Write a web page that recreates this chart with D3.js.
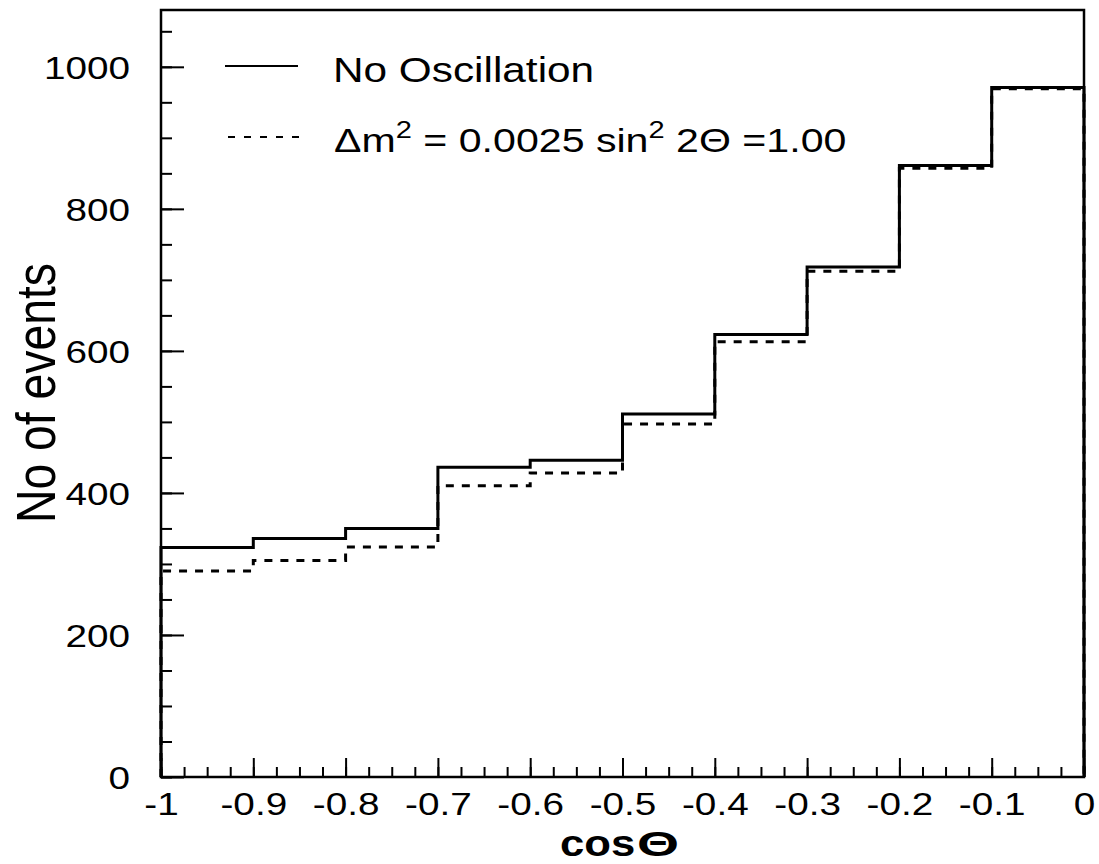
<!DOCTYPE html>
<html>
<head>
<meta charset="utf-8">
<script src="https://cdn.jsdelivr.net/npm/d3@7"></script>
<style>
body { margin: 0; background: #fff; }
text { font-family: "Liberation Sans", Arial, Helvetica, sans-serif; fill: #000; }
</style>
</head>
<body>
<div class="histo"></div>
<script>
var width = 1099;
var height = 864;
var margin = {top: 10, left: 161, right: 15, bottom: 87};
var stretch = 1.21; // ROOT text comes out a bit wider than Arial

// bin edges of cos(theta) and event counts
var binEdges = [-1, -0.9, -0.8, -0.7, -0.6, -0.5, -0.4, -0.3, -0.2, -0.1, 0];
var noOscillation = [323, 336, 350, 436, 446, 511, 623, 718, 861, 971];
var withOscillation = [290, 305, 324, 410, 428, 497, 613, 712, 857, 969];

var xTickValues = [-1, -0.9, -0.8, -0.7, -0.6, -0.5, -0.4, -0.3, -0.2, -0.1, 0];
var xTickLabels = ["-1", "-0.9", "-0.8", "-0.7", "-0.6", "-0.5", "-0.4", "-0.3", "-0.2", "-0.1", "0"];
var yTickValues = [0, 200, 400, 600, 800, 1000];
var yTickLabels = ["0", "200", "400", "600", "800", "1000"];

var svg = d3.select(".histo")
    .append("svg")
    .attr("width", width)
    .attr("height", height);

var xScale = d3.scaleLinear()
    .domain([-1, 0])
    .range([margin.left, width - margin.right]);

var yScale = d3.scaleLinear()
    .domain([0, 1080])
    .range([height - margin.bottom, margin.top]);

// step path for a histogram, ROOT style (up at first edge, down at last)
function histPath(values) {
    var p = d3.path();
    p.moveTo(xScale(binEdges[0]), yScale(0));
    values.forEach(function (v, i) {
        p.lineTo(xScale(binEdges[i]), yScale(v));
        p.lineTo(xScale(binEdges[i + 1]), yScale(v));
    });
    p.lineTo(xScale(binEdges[binEdges.length - 1]), yScale(0));
    return p.toString();
}

// minor ticks first (no labels)
var minorX = d3.range(-1, 0.0001, 0.025);
svg.append("g")
    .attr("transform", `translate(0,${yScale(0)})`)
    .call(d3.axisBottom(xScale).tickValues(minorX).tickSize(-10).tickFormat(""))
    .call(function (g) { g.select(".domain").remove(); })
    .selectAll("line").attr("stroke-width", 2);

svg.append("g")
    .attr("transform", `translate(0,${yScale(0)})`)
    .call(d3.axisBottom(xScale).tickValues(xTickValues).tickSize(-19).tickPadding(0)
        .tickFormat(function (d, i) { return xTickLabels[i]; }))
    .call(function (g) {
        g.select(".domain").remove();
        g.selectAll("line").attr("stroke-width", 2);
        g.selectAll("text")
            .attr("y", 38)
            .attr("dy", null)
            .attr("transform", `scale(${stretch},1)`)
            .style("font-size", "32px")
            .style("font-family", "Liberation Sans, Arial, sans-serif");
    });

var minorY = d3.range(0, 1051, 50);
svg.append("g")
    .attr("transform", `translate(${xScale(-1)},0)`)
    .call(d3.axisLeft(yScale).tickValues(minorY).tickSize(-11).tickFormat(""))
    .call(function (g) { g.select(".domain").remove(); })
    .selectAll("line").attr("stroke-width", 2);

svg.append("g")
    .attr("transform", `translate(${xScale(-1)},0)`)
    .call(d3.axisLeft(yScale).tickValues(yTickValues).tickSize(-23).tickPadding(0)
        .tickFormat(function (d, i) { return yTickLabels[i]; }))
    .call(function (g) {
        g.select(".domain").remove();
        g.selectAll("line").attr("stroke-width", 2);
        g.selectAll("text")
            .attr("x", -31 / stretch)
            .attr("dy", "0.36em")
            .attr("transform", `scale(${stretch},1)`)
            .style("font-size", "32px")
            .style("font-family", "Liberation Sans, Arial, sans-serif");
    });

// frame
svg.append("rect")
    .attr("x", xScale(-1))
    .attr("y", yScale(1080))
    .attr("width", xScale(0) - xScale(-1))
    .attr("height", yScale(0) - yScale(1080))
    .attr("fill", "none")
    .attr("stroke", "#000")
    .attr("stroke-width", 2.5);

// histograms
svg.append("path")
    .attr("d", histPath(withOscillation))
    .attr("fill", "none")
    .attr("stroke", "#000")
    .attr("stroke-width", 3)
    .attr("stroke-dasharray", "8,8");

svg.append("path")
    .attr("d", histPath(noOscillation))
    .attr("fill", "none")
    .attr("stroke", "#000")
    .attr("stroke-width", 3);

// legend
var legend = svg.append("g");
legend.append("line")
    .attr("x1", 225).attr("x2", 298)
    .attr("y1", 66).attr("y2", 66)
    .attr("stroke", "#000").attr("stroke-width", 1.8);
legend.append("text")
    .attr("transform", `translate(333,82) scale(${stretch},1)`)
    .style("font-size", "35px")
    .text("No Oscillation");

legend.append("line")
    .attr("x1", 228).attr("x2", 299)
    .attr("y1", 137).attr("y2", 137)
    .attr("stroke", "#000").attr("stroke-width", 1.8)
    .attr("stroke-dasharray", "7,9");
var leg2 = legend.append("text")
    .attr("transform", `translate(334,152) scale(${stretch},1)`)
    .style("font-size", "34px");
leg2.append("tspan").text("\u0394m");
leg2.append("tspan").attr("dy", -14).style("font-size", "24px").text("2");
leg2.append("tspan").attr("dy", 14).text(" = 0.0025 sin");
leg2.append("tspan").attr("dy", -14).style("font-size", "24px").text("2");
leg2.append("tspan").attr("dy", 14).text(" 2\u0398 =1.00");

// axis titles
svg.append("text")
    .attr("transform", `translate(55,523) scale(${stretch},1) rotate(-90)`)
    .style("font-size", "46px")
    .attr("textLength", 260)
    .attr("lengthAdjust", "spacingAndGlyphs")
    .text("No of events");

svg.append("text")
    .attr("transform", "translate(560,856) scale(1.18,1)")
    .style("font-size", "37px")
    .style("font-weight", "bold")
    .text("cos");
svg.append("text")
    .attr("transform", "translate(637,856) scale(1.5,1)")
    .style("font-size", "36px")
    .style("font-weight", "bold")
    .text("\u0398");
</script>
</body>
</html>
